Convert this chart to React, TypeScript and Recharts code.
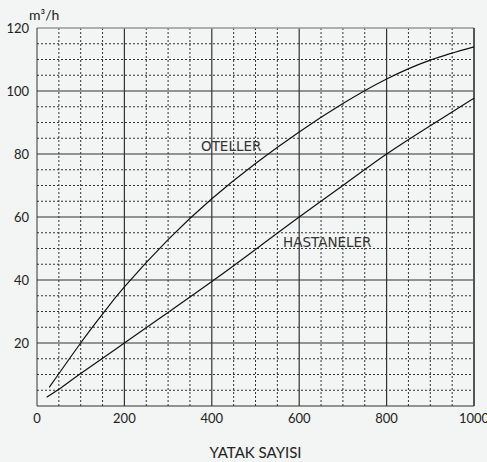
import React from 'react';
import { LineChart, Line, XAxis, YAxis, ReferenceLine } from 'recharts';

// bed counts (x) and air flow m3/h (y)
const hotelBeds = [28, 100, 150, 200, 300, 400, 500, 600, 700, 800, 900, 1000];
const hotelFlow = [5.9, 20, 29.2, 37.8, 52.8, 65.8, 77, 87, 96, 103.8, 109.8, 114];
const hospitalBeds = [22, 50, 100, 200, 300, 400, 500, 600, 700, 800, 900, 1000];
const hospitalFlow = [2.8, 5.3, 10.3, 20, 29.7, 39.5, 49.7, 60, 70, 80, 89, 97.7];

const xTicks = [0, 200, 400, 600, 800, 1000];
const yTicks = [20, 40, 60, 80, 100, 120];
const xMinor = [50, 100, 150, 250, 300, 350, 450, 500, 550, 650, 700, 750, 850, 900, 950];
const yMinor = [5, 10, 15, 25, 30, 35, 45, 50, 55, 65, 70, 75, 85, 90, 95, 105, 110, 115];
const xMajor = [200, 400, 600, 800];
const yMajor = [20, 40, 60, 80, 100];

const hotelData = hotelBeds.map((b, i) => ({ beds: b, flow: hotelFlow[i] }));
const hospitalData = hospitalBeds.map((b, i) => ({ beds: b, flow: hospitalFlow[i] }));

const tickFont = { fontFamily: 'Lato', fontSize: 13, fill: '#222' };
const curveLabel: React.CSSProperties = {
  position: 'absolute',
  fontFamily: '"DejaVu Sans"',
  fontSize: 13.5,
  color: '#333',
  lineHeight: 1,
  whiteSpace: 'nowrap',
};

export default function App() {
  return (
    <div style={{ position: 'absolute', left: 0, top: 0, width: 487, height: 462, background: '#f3f4f4' }}>
      <LineChart width={487} height={462} margin={{ top: 28, right: 13, left: 0, bottom: 0 }}>
        <XAxis
          type="number"
          dataKey="beds"
          domain={[0, 1000]}
          ticks={xTicks}
          tickLine={false}
          axisLine={{ stroke: '#333' }}
          tick={tickFont}
          height={56}
          label={{ value: 'YATAK SAYISI', position: 'insideBottom', offset: 4, style: { fontFamily: 'Lato', fontSize: 15, fill: '#222' } }}
        />
        <YAxis
          type="number"
          domain={[0, 120]}
          ticks={yTicks}
          tickLine={false}
          axisLine={{ stroke: '#333' }}
          tick={tickFont}
          width={37}
        />
        {xMinor.map((v) => (
          <ReferenceLine key={'xm' + v} x={v} stroke="#333" strokeDasharray="2 2" />
        ))}
        {yMinor.map((v) => (
          <ReferenceLine key={'ym' + v} y={v} stroke="#333" strokeDasharray="2 2" />
        ))}
        {xMajor.map((v) => (
          <ReferenceLine key={'xM' + v} x={v} stroke="#333" strokeWidth={1.2} />
        ))}
        {yMajor.map((v) => (
          <ReferenceLine key={'yM' + v} y={v} stroke="#333" strokeWidth={1.2} />
        ))}
        <ReferenceLine y={120} stroke="#999" strokeWidth={1.5} />
        <ReferenceLine x={1000} stroke="#555" strokeWidth={2} />
        <Line data={hotelData} dataKey="flow" type="natural" stroke="#111" strokeWidth={1.2} dot={false} isAnimationActive={false} />
        <Line data={hospitalData} dataKey="flow" type="natural" stroke="#111" strokeWidth={1.2} dot={false} isAnimationActive={false} />
      </LineChart>
      <div style={{ position: 'absolute', left: 29, top: 6, fontFamily: 'Lato', fontSize: 14, color: '#222' }}>
        m³/h
      </div>
      <div style={{ ...curveLabel, left: 201, top: 140 }}>OTELLER</div>
      <div style={{ ...curveLabel, left: 283, top: 236 }}>HASTANELER</div>
    </div>
  );
}
